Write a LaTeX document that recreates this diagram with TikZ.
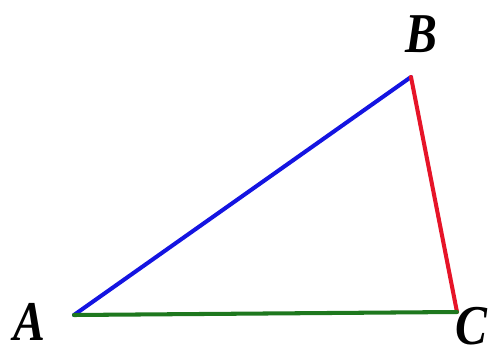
\documentclass[tikz,border=0pt]{standalone}
\usepackage{fontspec}
\setmainfont{Liberation Serif}
\definecolor{sideblue}{RGB}{20,20,225}
\definecolor{sidered}{RGB}{230,20,40}
\definecolor{sidegreen}{RGB}{30,120,30}
\begin{document}
\begin{tikzpicture}[x=0.02cm,y=-0.02cm,
  side/.style={line width=2.3pt,line cap=round,line join=round},
  vlabel/.style={font=\fontsize{32}{36}\selectfont\bfseries\itshape,inner sep=0pt,xscale=0.85}]
\useasboundingbox (0,0) rectangle (498,355);
\coordinate (A) at (74,315);
\coordinate (B) at (411,77);
\coordinate (C) at (457,312);
\draw[side,sideblue] (A) -- (B);
\draw[side,sidered] (B) -- (C);
\draw[side,sidegreen] (A) -- (C);
\node[vlabel] (lA) at (29,322) {A};
\node[vlabel] (lB) at (421,34) {B};
\node[vlabel] (lC) at (471,326) {C};
\end{tikzpicture}
\end{document}
